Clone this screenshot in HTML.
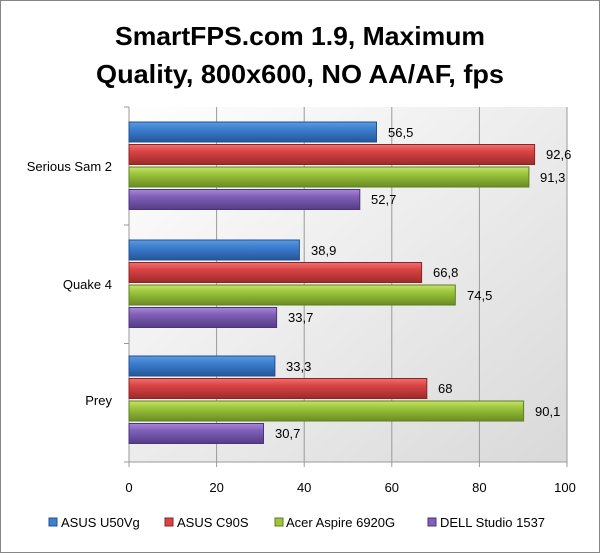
<!DOCTYPE html>
<html><head><style>
html,body{margin:0;padding:0;background:#fff;}
svg text{font-family:"Liberation Sans",sans-serif;}
</style></head><body>
<svg width="600" height="553" viewBox="0 0 600 553" xmlns="http://www.w3.org/2000/svg">
<defs>
<linearGradient id="bg" x1="0" y1="0" x2="1" y2="1">
<stop offset="0" stop-color="#ffffff"/><stop offset="1" stop-color="#d9d9d9"/></linearGradient>
<linearGradient id="gb" x1="0" y1="0" x2="0" y2="1"><stop offset="0" stop-color="#5b9be0"/><stop offset="0.35" stop-color="#3d7fd0"/><stop offset="1" stop-color="#25569a"/></linearGradient>
<linearGradient id="gr" x1="0" y1="0" x2="0" y2="1"><stop offset="0" stop-color="#f07070"/><stop offset="0.35" stop-color="#d94444"/><stop offset="1" stop-color="#9e2a2a"/></linearGradient>
<linearGradient id="gg" x1="0" y1="0" x2="0" y2="1"><stop offset="0" stop-color="#c6e46a"/><stop offset="0.35" stop-color="#9cc43c"/><stop offset="1" stop-color="#6a8c24"/></linearGradient>
<linearGradient id="gp" x1="0" y1="0" x2="0" y2="1"><stop offset="0" stop-color="#a988d8"/><stop offset="0.35" stop-color="#8060b8"/><stop offset="1" stop-color="#553c86"/></linearGradient>
</defs>
<rect x="0.5" y="0.5" width="599" height="552" fill="#fff" stroke="#868686"/>
<text x="300" y="45" text-anchor="middle" font-size="26" font-weight="bold" textLength="370" lengthAdjust="spacingAndGlyphs">SmartFPS.com 1.9, Maximum</text>
<text x="300" y="83" text-anchor="middle" font-size="26" font-weight="bold" textLength="408" lengthAdjust="spacingAndGlyphs">Quality, 800x600, NO AA/AF, fps</text>
<rect x="129" y="107" width="438" height="355" fill="url(#bg)"/>
<g stroke="#9a9a9a" stroke-width="1">
<line x1="216.6" y1="107" x2="216.6" y2="462"/><line x1="304.2" y1="107" x2="304.2" y2="462"/>
<line x1="391.8" y1="107" x2="391.8" y2="462"/><line x1="479.4" y1="107" x2="479.4" y2="462"/>
<line x1="567" y1="107" x2="567" y2="462"/>
<line x1="129" y1="107" x2="129" y2="467"/><line x1="124" y1="462" x2="567" y2="462"/>
<line x1="124" y1="107" x2="129" y2="107"/><line x1="124" y1="225" x2="129" y2="225"/><line x1="124" y1="343.5" x2="129" y2="343.5"/>
<line x1="216.6" y1="462" x2="216.6" y2="467"/><line x1="304.2" y1="462" x2="304.2" y2="467"/><line x1="391.8" y1="462" x2="391.8" y2="467"/><line x1="479.4" y1="462" x2="479.4" y2="467"/><line x1="567" y1="462" x2="567" y2="467"/>
</g>
<g stroke-width="1" font-size="13">
<rect x="129" y="122" width="247.5" height="20" fill="url(#gb)" stroke="#24508c"/>
<rect x="129" y="144.5" width="405.6" height="20" fill="url(#gr)" stroke="#8c2424"/>
<rect x="129" y="167" width="399.9" height="20" fill="url(#gg)" stroke="#5e7e20"/>
<rect x="129" y="189.5" width="230.8" height="20" fill="url(#gp)" stroke="#4c347a"/>
<rect x="129" y="240" width="170.4" height="20" fill="url(#gb)" stroke="#24508c"/>
<rect x="129" y="262.5" width="292.6" height="20" fill="url(#gr)" stroke="#8c2424"/>
<rect x="129" y="285" width="326.3" height="20" fill="url(#gg)" stroke="#5e7e20"/>
<rect x="129" y="307.5" width="147.6" height="20" fill="url(#gp)" stroke="#4c347a"/>
<rect x="129" y="356" width="145.9" height="20" fill="url(#gb)" stroke="#24508c"/>
<rect x="129" y="378.5" width="297.8" height="20" fill="url(#gr)" stroke="#8c2424"/>
<rect x="129" y="401" width="394.6" height="20" fill="url(#gg)" stroke="#5e7e20"/>
<rect x="129" y="423.5" width="134.5" height="20" fill="url(#gp)" stroke="#4c347a"/>
</g>
<g font-size="13" fill="#000">
<text x="388" y="137">56,5</text><text x="546" y="159">92,6</text><text x="540" y="182">91,3</text><text x="371" y="204">52,7</text>
<text x="311" y="255">38,9</text><text x="433" y="277">66,8</text><text x="467" y="300">74,5</text><text x="288" y="322">33,7</text>
<text x="286" y="371">33,3</text><text x="438" y="393">68</text><text x="535" y="416">90,1</text><text x="275" y="438">30,7</text>
<text x="112" y="171" text-anchor="end">Serious Sam 2</text>
<text x="112" y="289" text-anchor="end">Quake 4</text>
<text x="112" y="405" text-anchor="end">Prey</text>
<g text-anchor="middle"><text x="129" y="492">0</text><text x="216.6" y="492">20</text><text x="304.2" y="492">40</text><text x="391.8" y="492">60</text><text x="479.4" y="492">80</text><text x="565" y="492">100</text></g>
<rect x="49" y="518" width="8" height="8" fill="#3d7fd0" stroke="#24508c"/><text x="61" y="527">ASUS U50Vg</text>
<rect x="165" y="518" width="8" height="8" fill="#d94444" stroke="#8c2424"/><text x="177" y="527">ASUS C90S</text>
<rect x="275" y="518" width="8" height="8" fill="#9cc43c" stroke="#5e7e20"/><text x="286" y="527">Acer Aspire 6920G</text>
<rect x="428" y="518" width="8" height="8" fill="#8060b8" stroke="#4c347a"/><text x="440" y="527">DELL Studio 1537</text>
</g>
</svg>
</body></html>
